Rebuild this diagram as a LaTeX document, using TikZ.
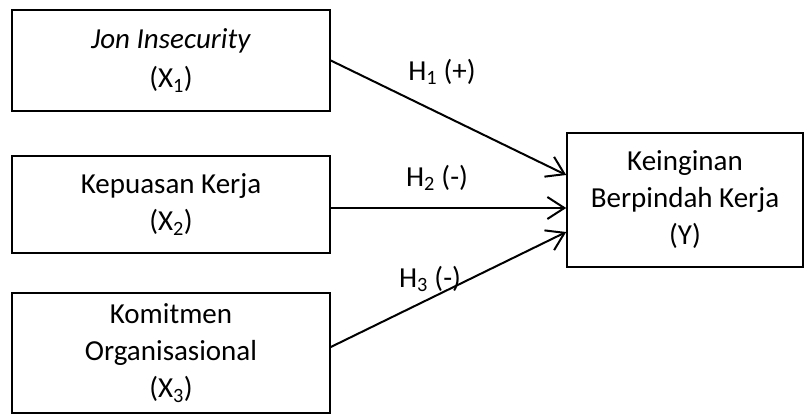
\documentclass[tikz,border=0pt]{standalone}
\usepackage{fontspec}
\setmainfont{Carlito}
\usetikzlibrary{arrows.meta}
\begin{document}
\begin{tikzpicture}[x=1pt,y=-1pt,
  box/.style={draw=black,line width=1.6pt,align=center,inner sep=0pt,
    font=\fontsize{29}{37}\selectfont},
  conn/.style={line width=2pt,-{Straight Barb[length=17pt,width=22pt,line width=2pt]}},
  lbl/.style={font=\fontsize{29}{34}\selectfont,inner sep=0pt}]
\useasboundingbox (0,0) rectangle (810,417);
\node[box,minimum width=318pt,minimum height=101pt] (b1) at (171,60.5) {\textit{Jon Insecurity}\\[2pt](X\textsubscript{1})};
\node[box,minimum width=318pt,minimum height=97pt] (b2) at (171,204.5) {Kepuasan Kerja\\(X\textsubscript{2})};
\node[box,minimum width=318pt,minimum height=120pt] (b3) at (171,353) {Komitmen\\Organisasional\\(X\textsubscript{3})};
\node[box,minimum width=236pt,minimum height=134pt] (yy) at (685,200) {Keinginan\\Berpindah Kerja\\(Y)};
\draw[conn] (b1.east) -- ([yshift=25pt]yy.west);
\draw[conn] ([yshift=-3.5pt]b2.east) -- ([yshift=-8pt]yy.west);
\draw[conn] ([yshift=6pt]b3.east) -- ([yshift=-32pt]yy.west);
\node[lbl] (h1) at (442,72) {H\textsubscript{1} (+)};
\node[lbl] (h2) at (437,178) {H\textsubscript{2} (-)};
\node[lbl] (h3) at (430,279) {H\textsubscript{3} (-)};
\end{tikzpicture}
\end{document}
